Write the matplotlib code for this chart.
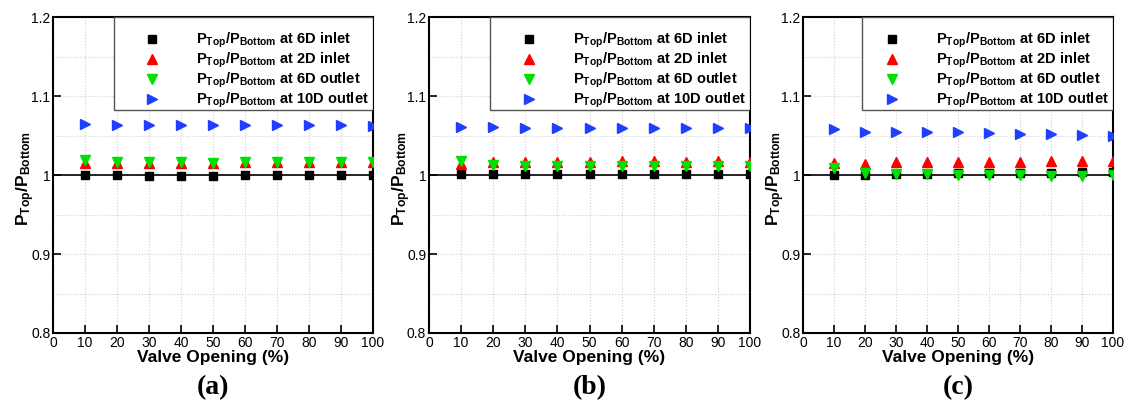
import numpy as np
import matplotlib
matplotlib.use('Agg')
import matplotlib.pyplot as plt
from matplotlib.ticker import MultipleLocator
from matplotlib.patches import Rectangle

plt.rcParams['font.family'] = ['Liberation Sans', 'DejaVu Sans']
plt.rcParams['mathtext.fontset'] = 'custom'
plt.rcParams['mathtext.bf'] = 'Liberation Sans:bold'
plt.rcParams['mathtext.rm'] = 'Liberation Sans'

#=== Data ===#
valve_opening = [10, 20, 30, 40, 50, 60, 70, 80, 90, 100]

# (a)
a_6d_inlet = [1.000, 1.000, 0.999, 0.999, 0.999, 1.000, 1.000, 1.000, 1.000, 1.000]
a_2d_inlet = [1.015, 1.015, 1.015, 1.015, 1.015, 1.016, 1.016, 1.016, 1.016, 1.016]
a_6d_outlet = [1.019, 1.017, 1.016, 1.016, 1.015, 1.016, 1.016, 1.016, 1.016, 1.016]
a_10d_outlet = [1.064, 1.063, 1.063, 1.063, 1.063, 1.063, 1.063, 1.063, 1.063, 1.062]

# (b)
b_6d_inlet = [1.001, 1.001, 1.001, 1.001, 1.001, 1.001, 1.001, 1.001, 1.001, 1.001]
b_2d_inlet = [1.014, 1.016, 1.016, 1.017, 1.017, 1.018, 1.018, 1.016, 1.018, 1.017]
b_6d_outlet = [1.018, 1.013, 1.012, 1.011, 1.011, 1.011, 1.011, 1.011, 1.011, 1.011]
b_10d_outlet = [1.061, 1.061, 1.060, 1.060, 1.060, 1.059, 1.059, 1.059, 1.059, 1.059]

# (c)
c_6d_inlet = [1.000, 1.000, 1.001, 1.001, 1.002, 1.002, 1.003, 1.003, 1.004, 1.004]
c_2d_inlet = [1.015, 1.014, 1.016, 1.017, 1.017, 1.017, 1.017, 1.018, 1.018, 1.018]
c_6d_outlet = [1.009, 1.003, 1.001, 1.001, 1.000, 1.000, 1.000, 0.999, 0.999, 1.000]
c_10d_outlet = [1.058, 1.055, 1.055, 1.055, 1.054, 1.053, 1.052, 1.052, 1.051, 1.050]

panels = [
    ('(a)', a_6d_inlet, a_2d_inlet, a_6d_outlet, a_10d_outlet),
    ('(b)', b_6d_inlet, b_2d_inlet, b_6d_outlet, b_10d_outlet),
    ('(c)', c_6d_inlet, c_2d_inlet, c_6d_outlet, c_10d_outlet),
]

labels = [r'$\mathbf{P_{Top}/P_{Bottom}}$ at 6D inlet',
          r'$\mathbf{P_{Top}/P_{Bottom}}$ at 2D inlet',
          r'$\mathbf{P_{Top}/P_{Bottom}}$ at 6D outlet',
          r'$\mathbf{P_{Top}/P_{Bottom}}$ at 10D outlet']
markers = ['s', '^', 'v', '>']
colors = ['black', '#ff0000', '#00e000', '#1f3fff']
sizes = [6, 7, 7, 7]

#=== Figure ===#
W, H = 1126, 403
fig = plt.figure(figsize=(W / 100, H / 100), dpi=100)
axes_pos = [[0.0471, 0.1737, 0.2842, 0.784],
            [0.3810, 0.1737, 0.2851, 0.784],
            [0.7132, 0.1737, 0.2753, 0.784]]

for pos, (tag, s1, s2, s3, s4) in zip(axes_pos, panels):
    ax = fig.add_axes(pos)
    ax_w = pos[2] * W  # axes width in pixels
    ax.axhline(1.0, color='black', lw=1.2, zorder=2.6)
    for series, m, c, ms, lab in zip([s1, s2, s3, s4], markers, colors, sizes, labels):
        ax.plot(valve_opening, series, linestyle='none', marker=m, color=c,
                markersize=ms, label=lab, zorder=3)
    ax.set_xlim(0, 100)
    ax.set_ylim(0.8, 1.2)
    ax.xaxis.set_major_locator(MultipleLocator(10))
    ax.yaxis.set_minor_locator(MultipleLocator(0.05))
    ax.set_yticks([0.8, 0.9, 1.0, 1.1, 1.2])
    ax.set_yticklabels(['0.8', '0.9', '1', '1.1', '1.2'])
    ax.grid(True, which='major', color='#d0d0d0', linestyle=':', lw=0.8)
    ax.grid(True, which='minor', axis='y', color='#d0d0d0', linestyle=':', lw=0.8)
    ax.tick_params(which='major', direction='in', length=6, width=1.2,
                   labelsize=10, pad=2)
    ax.tick_params(which='minor', length=0)
    for sp in ax.spines.values():
        sp.set_linewidth(1.5)
    ax.set_xlabel('Valve Opening (%)', fontsize=12.5, fontweight='bold', labelpad=0)
    ax.set_ylabel(r'$\mathbf{P_{Top}/P_{Bottom}}$', fontsize=12.5)
    ax.yaxis.set_label_coords(-16 / ax_w, 0.49)

    #=== Legend with a hand-placed frame ===#
    x0 = 61 / 320
    ax.add_patch(Rectangle((x0, 0.706), 1 - x0, 0.294, transform=ax.transAxes,
                           facecolor='white', edgecolor='#555555', lw=1.0, zorder=4))
    leg = ax.legend(loc='upper right', bbox_to_anchor=(1.0 + 2 / ax_w, 0.975),
                    borderaxespad=0, frameon=False, handlelength=4.5,
                    handletextpad=0.8, labelspacing=0.05, borderpad=0.4,
                    prop={'weight': 'bold', 'size': 10.5})
    leg.set_zorder(5)
    fig.text(pos[0] + pos[2] / 2, 0.037, tag, ha='center', va='center',
             fontsize=20, family='Liberation Serif', fontweight='bold')

plt.savefig('out.png', dpi=100)
